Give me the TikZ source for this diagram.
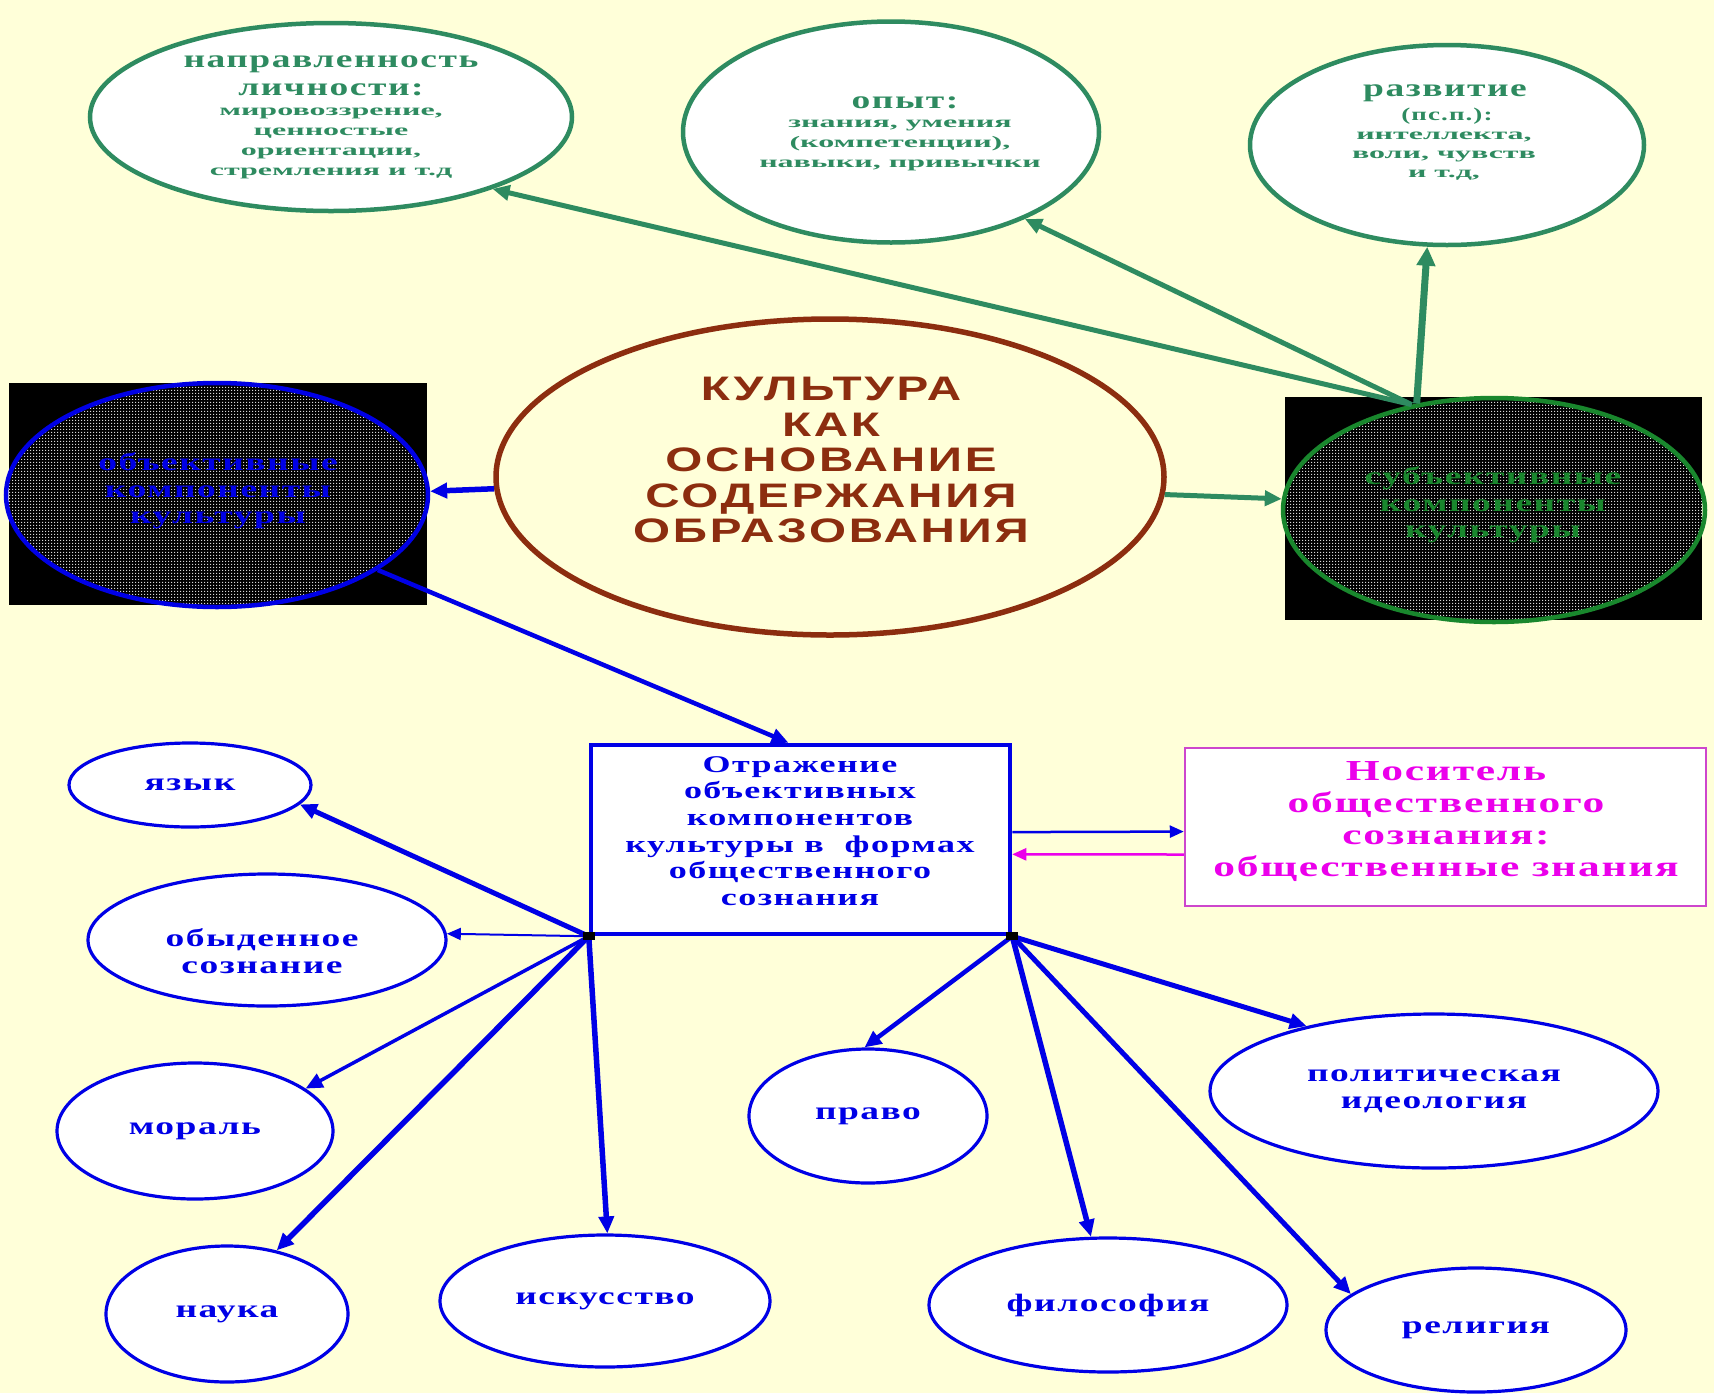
\documentclass[tikz,border=0pt]{standalone}
\usepackage{fontspec}
\setmainfont{Liberation Serif}
\newfontfamily\wser{Liberation Serif}[FakeStretch=1.5,LetterSpace=6]
\newfontfamily\wserx{Liberation Serif}[FakeStretch=2.0]
\newfontfamily\wsans{Liberation Sans}[FakeStretch=1.4,LetterSpace=8]
\usetikzlibrary{shapes.geometric,arrows.meta,patterns}
\pgfdeclarepatternformonly{bigdots}{\pgfpointorigin}{\pgfpoint{3pt}{3pt}}{\pgfpoint{3pt}{3pt}}{%
  \pgfpathrectangle{\pgfpointorigin}{\pgfpoint{1.5pt}{1.5pt}}\pgfusepath{fill}}
\definecolor{bg}{RGB}{255,255,217}
\definecolor{tgreen}{RGB}{46,139,96}
\definecolor{dgreen}{RGB}{25,135,45}
\definecolor{myblue}{RGB}{0,0,230}
\definecolor{kbrown}{RGB}{140,45,15}
\definecolor{mag}{RGB}{235,0,235}
\definecolor{magline}{RGB}{205,70,205}
\definecolor{dotgray}{RGB}{215,215,215}
\tikzset{
  topell/.style={ellipse, draw=tgreen, line width=4.5pt, fill=white, inner sep=0pt},
  lowell/.style={ellipse, draw=myblue, line width=3.2pt, fill=white, inner sep=0pt,
    font=\wser\bfseries\fontsize{25}{27}\selectfont, text=myblue, align=center},
  dotell/.style={ellipse, line width=4.5pt, pattern=bigdots, pattern color=dotgray, inner sep=0pt},
  blackbox/.style={fill=black, draw=none, inner sep=0pt},
  gtitle/.style={text=tgreen, font=\wser\bfseries\fontsize{25}{28}\selectfont, align=center, inner sep=0pt},
  gmid/.style={text=tgreen, font=\wser\bfseries\fontsize{18}{20}\selectfont, align=center, inner sep=0pt},
  gsmall/.style={text=tgreen, font=\wserx\bfseries\fontsize{16}{20}\selectfont, align=center, inner sep=0pt},
  btext/.style={font=\wser\bfseries\fontsize{25}{26.5}\selectfont, align=center, inner sep=0pt},
  garr/.style={-{Triangle[length=17pt,width=15pt]}, line width=5pt, draw=tgreen},
  barr/.style={-{Triangle[length=17pt,width=15pt]}, line width=4.5pt, draw=myblue},
  marr/.style={-{Triangle[length=14pt,width=12pt]}, line width=2.5pt, draw=mag},
}
\begin{document}
\begin{tikzpicture}[x=1pt,y=-1pt]
\useasboundingbox (0,0) rectangle (1714,1393);
\fill[bg] (0,0) rectangle (1714,1393);

% top ellipses
\node[topell, minimum width=482pt, minimum height=188pt] (napr) at (331,117) {};
\node[gtitle] (naprT) at (331,76) {направленность\\личности:};
\node[gsmall] (naprS) at (331,143) {мировоззрение,\\ценностые\\ориентации,\\стремления и т.д};

\node[topell, minimum width=416pt, minimum height=221pt] (opyt) at (891,132) {};
\node[gtitle] (opytT) at (905,103) {опыт:};
\node[gsmall] (opytS) at (900,145) {знания, умения\\(компетенции),\\навыки, привычки};

\node[topell, minimum width=394pt, minimum height=200pt] (razv) at (1447,145) {};
\node[gtitle] (razvT) at (1445,93) {развитие};
\node[gmid] (razvM) at (1447,116) {(пс.п.):};
\node[gsmall, font=\wserx\bfseries\fontsize{16}{19}\selectfont] (razvS) at (1444,156) {интеллекта,\\воли, чувств\\и т.д,};

% black boxes
\node[blackbox, minimum width=418pt, minimum height=222pt] (objbox) at (218,494) {};
\node[dotell, draw=myblue, minimum width=422pt, minimum height=224pt] (obj) at (217,495) {};
\node[btext, text=myblue] (objT) at (218,491) {объективные\\компоненты\\культуры};

\node[blackbox, minimum width=417pt, minimum height=223pt] (subjbox) at (1493.5,508.5) {};
\node[dotell, draw=dgreen, minimum width=422pt, minimum height=224pt] (subj) at (1494,510) {};
\node[btext, text=dgreen] (subjT) at (1493,505) {субъективные\\компоненты\\культуры};

% central ellipse
\node[ellipse, draw=kbrown, line width=5.5pt, inner sep=0pt, minimum width=668pt, minimum height=316pt] (kult) at (830,477) {};
\node[text=kbrown, font=\wsans\bfseries\fontsize{34}{35.5}\selectfont, align=center, inner sep=0pt] (kultT) at (831,460) {КУЛЬТУРА\\КАК\\ОСНОВАНИЕ\\СОДЕРЖАНИЯ\\ОБРАЗОВАНИЯ};

% rectangle
\node[draw=myblue, line width=4.5pt, fill=white, minimum width=419pt, minimum height=189pt, inner sep=0pt] (rect) at (800.5,839.5) {};
\node[btext, text=myblue, font=\wser\bfseries\fontsize{24}{26.6}\selectfont] (rectT) at (800,831) {Отражение\\объективных\\компонентов\\культуры в \ формах\\общественного\\сознания};

% magenta box
\node[draw=magline, line width=2.5pt, fill=white, minimum width=521pt, minimum height=158pt, inner sep=0pt] (noss) at (1445.5,827) {};
\node[btext, text=mag, font=\wser\bfseries\fontsize{29}{32}\selectfont] (nossT) at (1446,822) {Носитель\\общественного\\сознания:\\общественные знания};

% lower ellipses
\node[lowell, minimum width=242pt, minimum height=84pt] (yazyk) at (190,785) {язык};
\node[lowell, minimum width=358pt, minimum height=132pt] (obyd) at (267,940) {};
\node[btext, text=myblue, font=\wser\bfseries\fontsize{25}{27}\selectfont] (obydT) at (262,951) {обыденное\\сознание};
\node[lowell, minimum width=276pt, minimum height=136pt] (moral) at (195,1131) {мораль};
\node[lowell, minimum width=242pt, minimum height=136pt] (nauka) at (227,1314) {наука};
\node[lowell, minimum width=330pt, minimum height=132pt] (isk) at (605,1301) {искусство};
\node[lowell, minimum width=238pt, minimum height=134pt] (pravo) at (868,1116) {право};
\node[lowell, minimum width=448pt, minimum height=154pt] (polit) at (1434,1091) {политическая\\идеология};
\node[lowell, minimum width=358pt, minimum height=134pt] (filos) at (1108,1305) {философия};
\node[lowell, minimum width=300pt, minimum height=124pt] (relig) at (1476,1330) {религия};

% connectors: top
\draw[garr] (subj.128) -- (napr.-24);
\draw[garr] (subj.128) -- (opyt.-33);
\draw[garr, line width=7pt, -{Triangle[length=19pt,width=18pt]}] (subj.126) -- (razv.-101);
\draw[barr, line width=5.5pt] (kult.182) -- (obj.1);
\draw[garr] (kult.-3.5) -- (subj.177);
\draw[barr] (obj.-25) -- ([xshift=-12pt]rect.north);

% rect <-> noss
\draw[barr, line width=2.5pt, -{Triangle[length=14pt,width=12pt]}] (rect.2) -- (noss.181);
\draw[marr] (noss.186) -- (rect.-4);

% from bottom-left corner
\draw[barr, line width=5pt] (rect.south west) -- (yazyk.-10);
\draw[barr, line width=2pt, -{Triangle[length=14pt,width=12pt]}] (rect.south west) -- (obyd.2);
\draw[barr, line width=3.5pt] (rect.south west) -- (moral.21);
\draw[barr, line width=5.5pt] (rect.south west) -- (nauka.52);
\draw[barr, line width=5.5pt] (rect.south west) -- (isk.88);

% from bottom-right corner
\draw[barr, line width=4.5pt] (rect.south east) -- (pravo.93);
\draw[barr, line width=5pt] (rect.south east) -- (polit.153);
\draw[barr, line width=5.5pt] (rect.south east) -- (filos.104);
\draw[barr, line width=5pt] (rect.south east) -- (relig.164);

% corner markers
\fill[black] ([xshift=-6pt,yshift=-4pt]rect.south west) rectangle ([xshift=6pt,yshift=4pt]rect.south west);
\fill[black] ([xshift=-6pt,yshift=-4pt]rect.south east) rectangle ([xshift=6pt,yshift=4pt]rect.south east);
\end{tikzpicture}
\end{document}
